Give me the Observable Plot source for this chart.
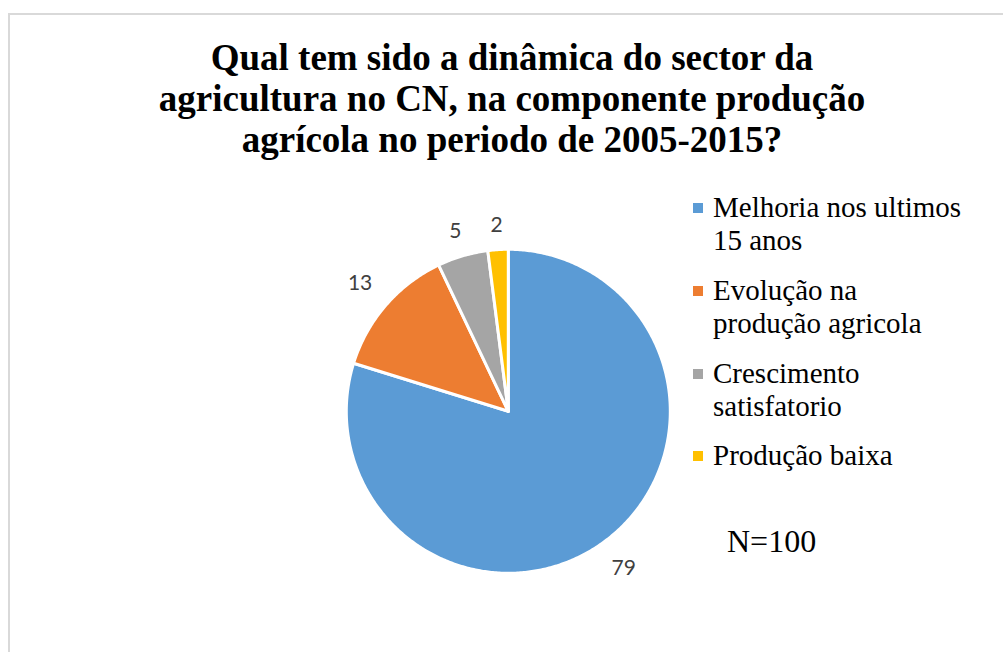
<!DOCTYPE html>
<html>
<head>
<meta charset="utf-8">
<script src="https://cdn.jsdelivr.net/npm/d3@7"></script>
<script src="https://cdn.jsdelivr.net/npm/@observablehq/plot@0.6"></script>
<style>
  html, body { margin: 0; padding: 0; background: #fff; }
  #wrap { position: relative; width: 1003px; height: 652px; overflow: hidden; }
  #frame { position: absolute; left: 8px; top: 13px; width: 1100px; height: 800px; border: 2px solid #d9d9d9; box-sizing: border-box; }
  #title { position: absolute; left: 12px; top: 37px; width: 1000px; text-align: center;
    font-family: "Liberation Serif", "Times New Roman", serif; font-weight: bold; font-size: 37px; line-height: 41px; color: #000; }
  #chart { position: absolute; }
  .item { position: absolute; left: 713px; width: 285px; font-family: "Liberation Serif", serif; font-size: 29px; line-height: 33.5px; color: #000; }
  .sw { position: absolute; left: -20px; top: 12.5px; width: 10px; height: 10px; }
  #n { position: absolute; left: 727px; top: 525px; font-family: "Liberation Serif", serif; font-size: 32px; line-height: 32px; color: #000; }
</style>
</head>
<body>
<div id="wrap">
  <div id="frame"></div>
  <div id="title">Qual tem sido a dinâmica do sector da<br>agricultura no CN, na componente produção<br>agrícola no periodo de 2005-2015?</div>
  <div id="chart"></div>
  <div id="legend"></div>
  <div id="n">N=100</div>
</div>
<script>
const categories = ["Melhoria nos ultimos 15 anos", "Evolução na produção agricola", "Crescimento satisfatorio", "Produção baixa"];
const values = [79, 13, 5, 2];
const colors = ["#5B9BD5", "#ED7D31", "#A5A5A5", "#FFC000"];

const data = categories.map((c, i) => ({category: c, value: values[i]}));
const arcs = d3.pie().sort(null).value(d => d.value)(data);

const R = 162, S = 1.4, W = 2 * R * S;

// Build slice polygons in unit coordinates (angle 0 = 12 o'clock, clockwise)
const pts = [];
arcs.forEach(a => {
  const n = Math.max(4, Math.ceil((a.endAngle - a.startAngle) / 0.01));
  pts.push({category: a.data.category, x: 0, y: 0});
  for (let k = 0; k <= n; k++) {
    const t = a.startAngle + (a.endAngle - a.startAngle) * k / n;
    pts.push({category: a.data.category, x: Math.sin(t), y: Math.cos(t)});
  }
  pts.push({category: a.data.category, x: 0, y: 0});
});
// Outside-end labels: distance = radius + gap + half extent of label box along direction
const labels = arcs.map(a => {
  const m = (a.startAngle + a.endAngle) / 2;
  const s = Math.sin(m), c = Math.cos(m);
  const halfW = 9 * String(a.data.value).length, halfH = 10;
  const d = (R + 14 + Math.abs(s) * halfW + Math.abs(c) * halfH) / R;
  return {label: String(a.data.value), x: d * s, y: d * c};
});

const plot = Plot.plot({
  width: W, height: W,
  margin: 0,
  x: {domain: [-S, S], axis: null},
  y: {domain: [-S, S], axis: null},
  color: {domain: categories, range: colors},
  marks: [
    Plot.line(pts, {x: "x", y: "y", z: "category", fill: "category", stroke: "#fff", strokeWidth: 3, strokeLinejoin: "round", curve: "linear"}),
    Plot.text(labels, {x: "x", y: "y", text: "label", fontSize: 21, fontFamily: "Lato, 'Open Sans', sans-serif", fill: "#404040"})
  ]
});
const chart = document.getElementById("chart");
chart.style.left = (508 - W / 2) + "px";
chart.style.top = (411 - W / 2) + "px";
chart.appendChild(plot);

const legendLines = [["Melhoria nos ultimos", "15 anos"], ["Evolução na", "produção agricola"], ["Crescimento", "satisfatorio"], ["Produção baixa"]];
const tops = [190.5, 273.5, 356.5, 438.5];
const legend = document.getElementById("legend");
categories.forEach((c, i) => {
  const d = document.createElement("div");
  d.className = "item";
  d.style.top = tops[i] + "px";
  d.innerHTML = `<span class="sw" style="background:${colors[i]}"></span>` + legendLines[i].join("<br>");
  legend.appendChild(d);
});
</script>
</body>
</html>
